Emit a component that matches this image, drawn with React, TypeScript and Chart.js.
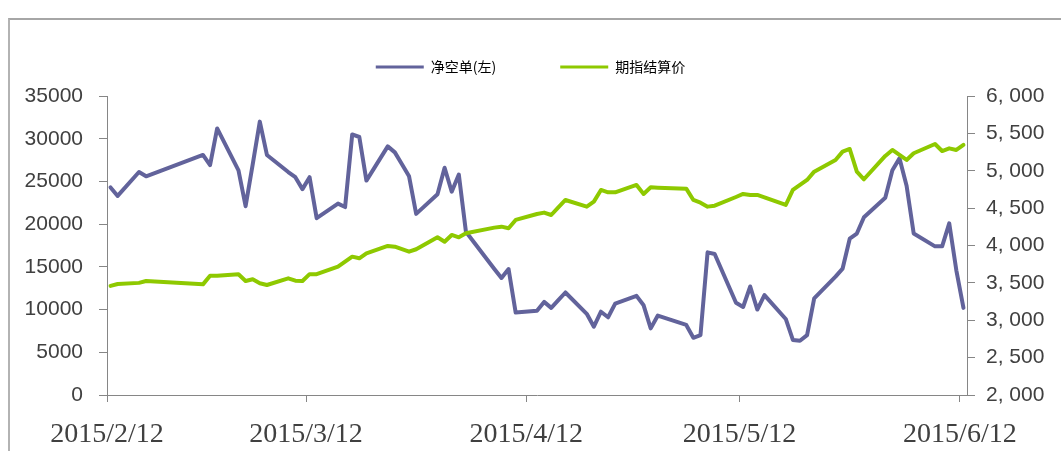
import React, { useEffect, useRef } from 'react';
import { Chart, registerables } from 'chart.js';

Chart.register(...registerables);

// Trading days shown in the chart
const dates: string[] = [
  '2015/2/12', '2015/2/13', '2015/2/16', '2015/2/17', '2015/2/25', '2015/2/26', '2015/2/27',
  '2015/3/2', '2015/3/3', '2015/3/4', '2015/3/5', '2015/3/6',
  '2015/3/9', '2015/3/10', '2015/3/11', '2015/3/12', '2015/3/13',
  '2015/3/16', '2015/3/17', '2015/3/18', '2015/3/19', '2015/3/20',
  '2015/3/23', '2015/3/24', '2015/3/25', '2015/3/26', '2015/3/27',
  '2015/3/30', '2015/3/31',
  '2015/4/1', '2015/4/2', '2015/4/3',
  '2015/4/7', '2015/4/8', '2015/4/9', '2015/4/10',
  '2015/4/13', '2015/4/14', '2015/4/15', '2015/4/16', '2015/4/17',
  '2015/4/20', '2015/4/21', '2015/4/22', '2015/4/23', '2015/4/24',
  '2015/4/27', '2015/4/28', '2015/4/29', '2015/4/30',
  '2015/5/4', '2015/5/5', '2015/5/6', '2015/5/7', '2015/5/8',
  '2015/5/11', '2015/5/12', '2015/5/13', '2015/5/14', '2015/5/15',
  '2015/5/18', '2015/5/19', '2015/5/20', '2015/5/21', '2015/5/22',
  '2015/5/25', '2015/5/26', '2015/5/27', '2015/5/28', '2015/5/29',
  '2015/6/1', '2015/6/2', '2015/6/3', '2015/6/4', '2015/6/5',
  '2015/6/8', '2015/6/9', '2015/6/10', '2015/6/11', '2015/6/12',
];

// 净空单(左) — left axis
const netShort: number[] = [
  24300, 23300, 26100, 25600, 28100, 26900, 31200,
  26300, 22100, 27000, 32000, 28100,
  26100, 25500, 24100, 25500, 20700,
  22400, 22000, 30500, 30200, 25100,
  29100, 28400, 27000, 25600, 21200,
  23500, 26600,
  23800, 25800, 19100,
  14750, 13700, 14750, 9650,
  9870, 10900, 10200, 11100, 12000,
  9500, 8000, 9750, 9100, 10700,
  11600, 10500, 7800, 9300,
  8200, 6700, 7000, 16700, 16500,
  10800, 10300, 12700, 10000, 11700,
  8900, 6450, 6350, 7000, 11300,
  13850, 14800, 18300, 18900, 20800,
  23100, 26300, 27700, 24500, 18900,
  17400, 17400, 20100, 14600, 10200,
];

// 期指结算价 — right axis
const settlePrice: number[] = [
  3460, 3485, 3500, 3525, 3480, 3595, 3595,
  3615, 3525, 3548, 3495, 3472,
  3561, 3529, 3525, 3617, 3617,
  3717, 3784, 3851, 3829, 3896,
  3994, 3984, 3950, 3918, 3950,
  4110, 4051,
  4141, 4110, 4164,
  4239, 4252, 4230, 4342,
  4422, 4440, 4408, 4511, 4609,
  4520, 4587, 4743, 4712, 4712,
  4810, 4690, 4779, 4774,
  4760, 4609, 4573, 4520, 4533,
  4649, 4690, 4676, 4676, 4645,
  4542, 4743, 4810, 4877, 4988,
  5144, 5256, 5291, 4988, 4886,
  5198, 5278, 5211, 5144, 5234,
  5358, 5264, 5300, 5278, 5345,
];

const xTickLabels: string[] = ['2015/2/12', '2015/3/12', '2015/4/12', '2015/5/12', '2015/6/12'];
const seriesNames: string[] = ['净空单(左)', '期指结算价'];

const BASE = Date.UTC(2015, 1, 12);
function dayOf(s: string): number {
  const [y, m, d] = s.split('/').map(Number);
  return Math.round((Date.UTC(y, m - 1, d) - BASE) / 86400000);
}

const AXIS_GRAY = '#868686';
const LABEL_COLOR = '#404040';

const legendHeightPlugin = {
  id: 'legendHeight',
  beforeLayout(chart: any) {
    const lg = chart.legend;
    if (lg && !lg.__patched) {
      const orig = lg.fit.bind(lg);
      lg.fit = () => {
        orig();
        lg.height = 100;
      };
      lg.__patched = true;
    }
  },
};

export default function App() {
  const ref = useRef<HTMLCanvasElement | null>(null);

  useEffect(() => {
    if (!ref.current) return;
    const tickMap: Record<number, string> = {};
    xTickLabels.forEach((l) => { tickMap[dayOf(l)] = l; });

    const chart = new Chart(ref.current, {
      type: 'line',
      data: {
        datasets: [
          {
            label: seriesNames[0],
            data: dates.map((d, i) => ({ x: dayOf(d) + 0.5, y: netShort[i] })),
            borderColor: '#62639b',
            backgroundColor: '#62639b',
            borderWidth: 4,
            pointRadius: 0,
            tension: 0,
            borderJoinStyle: 'round',
            borderCapStyle: 'round',
            yAxisID: 'y',
            order: 1,
          },
          {
            label: seriesNames[1],
            data: dates.map((d, i) => ({ x: dayOf(d) + 0.5, y: settlePrice[i] })),
            borderColor: '#8ec900',
            backgroundColor: '#8ec900',
            borderWidth: 4,
            pointRadius: 0,
            tension: 0,
            borderJoinStyle: 'round',
            borderCapStyle: 'round',
            yAxisID: 'y1',
            order: 0,
          },
        ],
      },
      options: {
        animation: false,
        responsive: false,
        maintainAspectRatio: false,
        layout: { padding: 0 },
        plugins: {
          tooltip: { enabled: false },
          legend: {
            position: 'top',
            labels: {
              boxWidth: 48,
              boxHeight: 3,
              padding: 64,
              color: '#000000',
              font: { family: '"Noto Sans CJK SC"', size: 14 },
              sort: (a: any, b: any) => a.datasetIndex - b.datasetIndex,
              generateLabels: (c: any) =>
                (Chart.defaults.plugins.legend.labels.generateLabels as any)(c).map((l: any) => ({
                  ...l,
                  lineWidth: 0,
                  fillStyle: l.strokeStyle,
                })),
            },
          },
        },
        scales: {
          x: {
            type: 'linear',
            min: 0,
            max: 121,
            afterBuildTicks: (s: any) => {
              s.ticks = xTickLabels.map((l) => ({ value: dayOf(l) }));
            },
            afterFit: (s: any) => { s.height = 62; },
            ticks: {
              autoSkip: false,
              maxRotation: 0,
              minRotation: 0,
              padding: 16,
              color: LABEL_COLOR,
              font: { family: '"Liberation Serif"', size: 28 },
              callback: (v: any) => tickMap[v] ?? '',
            },
            grid: { drawOnChartArea: false, drawTicks: true, tickLength: 7, color: AXIS_GRAY },
            border: { color: AXIS_GRAY, width: 1 },
          },
          y: {
            position: 'left',
            min: 0,
            max: 35000,
            afterFit: (s: any) => { s.width = 99; },
            ticks: {
              stepSize: 5000,
              padding: 16,
              color: LABEL_COLOR,
              font: { family: '"Liberation Sans"', size: 21 },
              callback: (v: any) => String(v),
            },
            grid: { drawOnChartArea: false, drawTicks: true, tickLength: 8, color: AXIS_GRAY },
            border: { color: AXIS_GRAY, width: 1 },
          },
          y1: {
            position: 'right',
            min: 2000,
            max: 6000,
            afterFit: (s: any) => { s.width = 86; },
            ticks: {
              stepSize: 500,
              padding: 11,
              color: LABEL_COLOR,
              font: { family: '"Liberation Sans"', size: 21 },
              callback: (v: any) => {
                const n = Number(v);
                return `${Math.floor(n / 1000)}, ${String(n % 1000).padStart(3, '0')}`;
              },
            },
            grid: { drawOnChartArea: false, drawTicks: true, tickLength: 8, color: AXIS_GRAY },
            border: { color: AXIS_GRAY, width: 1 },
          },
        },
      },
      plugins: [legendHeightPlugin],
    } as any);
    return () => chart.destroy();
  }, []);

  return (
    <div style={{ position: 'fixed', left: 0, top: 0, width: 1061, height: 457, overflow: 'hidden', background: '#fff' }}>
      <div
        style={{
          position: 'absolute',
          left: 8,
          top: 18,
          width: 1100,
          height: 433,
          borderLeft: '2px solid #b3b3b3',
          borderTop: '2px solid #a6a6a6',
          boxSizing: 'border-box',
        }}
      />
      <canvas
        ref={ref}
        width={1045}
        height={461}
        style={{ position: 'absolute', left: 8, top: -4, width: 1045, height: 461 }}
      />
    </div>
  );
}
